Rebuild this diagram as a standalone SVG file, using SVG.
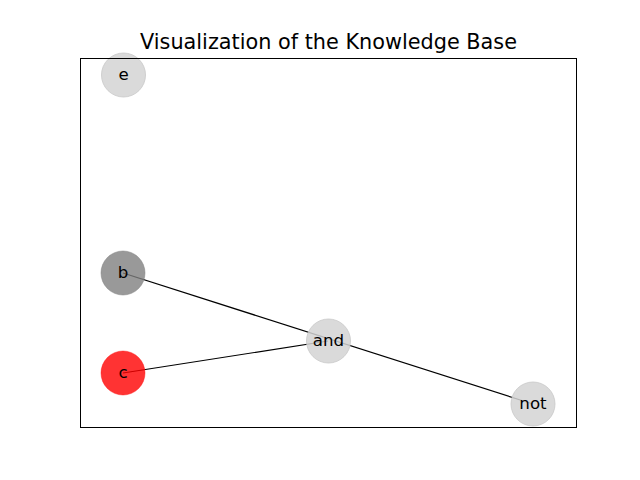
<svg xmlns="http://www.w3.org/2000/svg" width="640" height="480" viewBox="0 0 640 480">
  <style>
    .edge { stroke: #000; stroke-width: 1.2; fill: none; }
    .node circle { stroke-width: 1; }
    .light { fill: #d3d3d3; fill-opacity: 0.85; stroke: #c8c8c8; stroke-opacity: 0.8; }
    .gray { fill: #808080; fill-opacity: 0.8; stroke: #808080; stroke-opacity: 0.5; }
    .red { fill: #ff0000; fill-opacity: 0.8; stroke: #ff0000; stroke-opacity: 0.4; }
    .lbl { font-family: "DejaVu Sans", sans-serif; font-size: 16.67px; fill: #000; text-anchor: middle; }
    .title { font-family: "DejaVu Sans", sans-serif; font-size: 20.8px; fill: #000; text-anchor: middle; }
  </style>
  <rect x="0" y="0" width="640" height="480" fill="#fff"/>
  <text class="title" x="328.5" y="49">Visualization of the Knowledge Base</text>
  <g id="connectors">
    <line class="edge" x1="123" y1="273" x2="533" y2="404"/>
    <line class="edge" x1="123" y1="373" x2="328" y2="341"/>
  </g>
  <g id="node-e" class="node">
    <circle class="light" cx="123.5" cy="75" r="22"/>
    <text class="lbl" x="123.5" y="80">e</text>
  </g>
  <g id="node-b" class="node">
    <circle class="gray" cx="123" cy="273" r="22"/>
    <text class="lbl" x="123" y="278">b</text>
  </g>
  <g id="node-c" class="node">
    <circle class="red" cx="123" cy="373" r="22"/>
    <text class="lbl" x="123" y="378">c</text>
  </g>
  <g id="node-and" class="node">
    <circle class="light" cx="328.5" cy="341" r="22"/>
    <text class="lbl" x="328.5" y="346">and</text>
  </g>
  <g id="node-not" class="node">
    <circle class="light" cx="533" cy="404" r="22"/>
    <text class="lbl" x="533" y="409">not</text>
  </g>
  <rect x="80.5" y="58.5" width="496" height="369" fill="none" stroke="#000" stroke-width="1"/>
</svg>
